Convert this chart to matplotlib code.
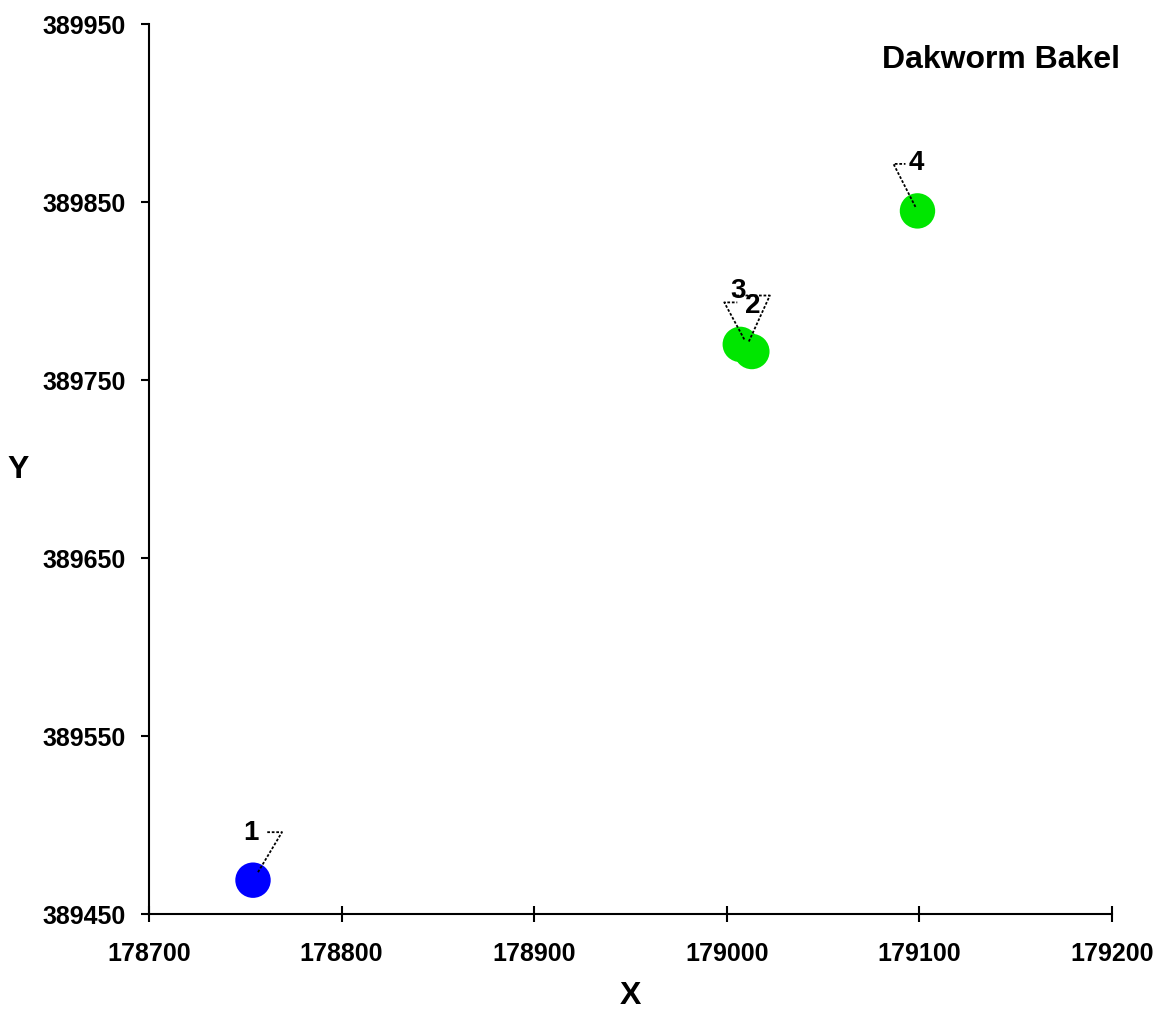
import matplotlib
matplotlib.use("Agg")
import matplotlib.pyplot as plt
from matplotlib.transforms import IdentityTransform

plt.rcParams['font.family'] = ['Liberation Sans', 'DejaVu Sans']
plt.rcParams['font.weight'] = 'bold'

labels = ["1", "2", "3", "4"]
xs = [178754, 179013, 179007, 179099]
ys = [389469, 389766, 389770, 389845]
colors = ["#0000FF", "#00E600", "#00E600", "#00E600"]
xticks = [178700, 178800, 178900, 179000, 179100, 179200]
yticks = [389450, 389550, 389650, 389750, 389850, 389950]
title = "Dakworm Bakel"

# leader line geometry in pixels (dx, dy; y up): start, corner, horizontal end, label centre
leaders = {
    "1": [(5, 8), (29, 48), (14, 48), (-2, 48)],
    "2": [(-3, 10), (18, 56), (-19, 56), (1, 47)],
    "3": [(4, 5), (-16, 42), (-3, 42), (-2, 54)],
    "4": [(-2, 4), (-24, 47), (-12, 47), (-1, 49)],
}

W, H = 1156, 1012
fig = plt.figure(figsize=(W / 100, H / 100), dpi=100)
ax = fig.add_axes([149 / W, (H - 915) / H, (1112 - 149) / W, (915 - 25) / H])

ax.scatter(xs, ys, s=650, c=colors, zorder=3, linewidths=0)

ax.set_xlim(xticks[0], xticks[-1])
ax.set_ylim(yticks[0], yticks[-1])
ax.set_xticks(xticks)
ax.set_yticks(yticks)
ax.set_xticklabels([str(v) for v in xticks], fontsize=18, fontweight='bold')
ax.set_yticklabels([str(v) for v in yticks], fontsize=18, fontweight='bold')
ax.tick_params(axis='x', direction='inout', length=11, width=1.5, pad=14)
ax.tick_params(axis='y', direction='out', length=6, width=1.5, pad=11)
for s in ['top', 'right']:
    ax.spines[s].set_visible(False)
for s in ['left', 'bottom']:
    ax.spines[s].set_linewidth(1.5)
ax.set_xlabel("X", fontsize=23, fontweight='bold', labelpad=11)
ax.set_ylabel("Y", fontsize=23, fontweight='bold', rotation=0, va='center', ha='center')
ax.yaxis.set_label_coords(-0.136, 0.5)

fig.canvas.draw()
for lab, x, y in zip(labels, xs, ys):
    px, py = ax.transData.transform((x, y))
    (sx, sy), (cx, cy), (hx, hy), (tx, ty) = leaders[lab]
    fig.add_artist(plt.Line2D([px + sx, px + cx, px + hx], [py + sy, py + cy, py + hy],
                              transform=IdentityTransform(), color='black',
                              linestyle=(0, (1.5, 1)), linewidth=1.3, zorder=5))
    fig.text((px + tx) / W, (py + ty) / H, lab, fontsize=20, fontweight='bold',
             ha='center', va='center', zorder=6)

fig.text(1120 / W, (H - 60) / H, title, fontsize=23, fontweight='bold',
         ha='right', va='center')

fig.savefig("out.png", dpi=100, facecolor='white')
